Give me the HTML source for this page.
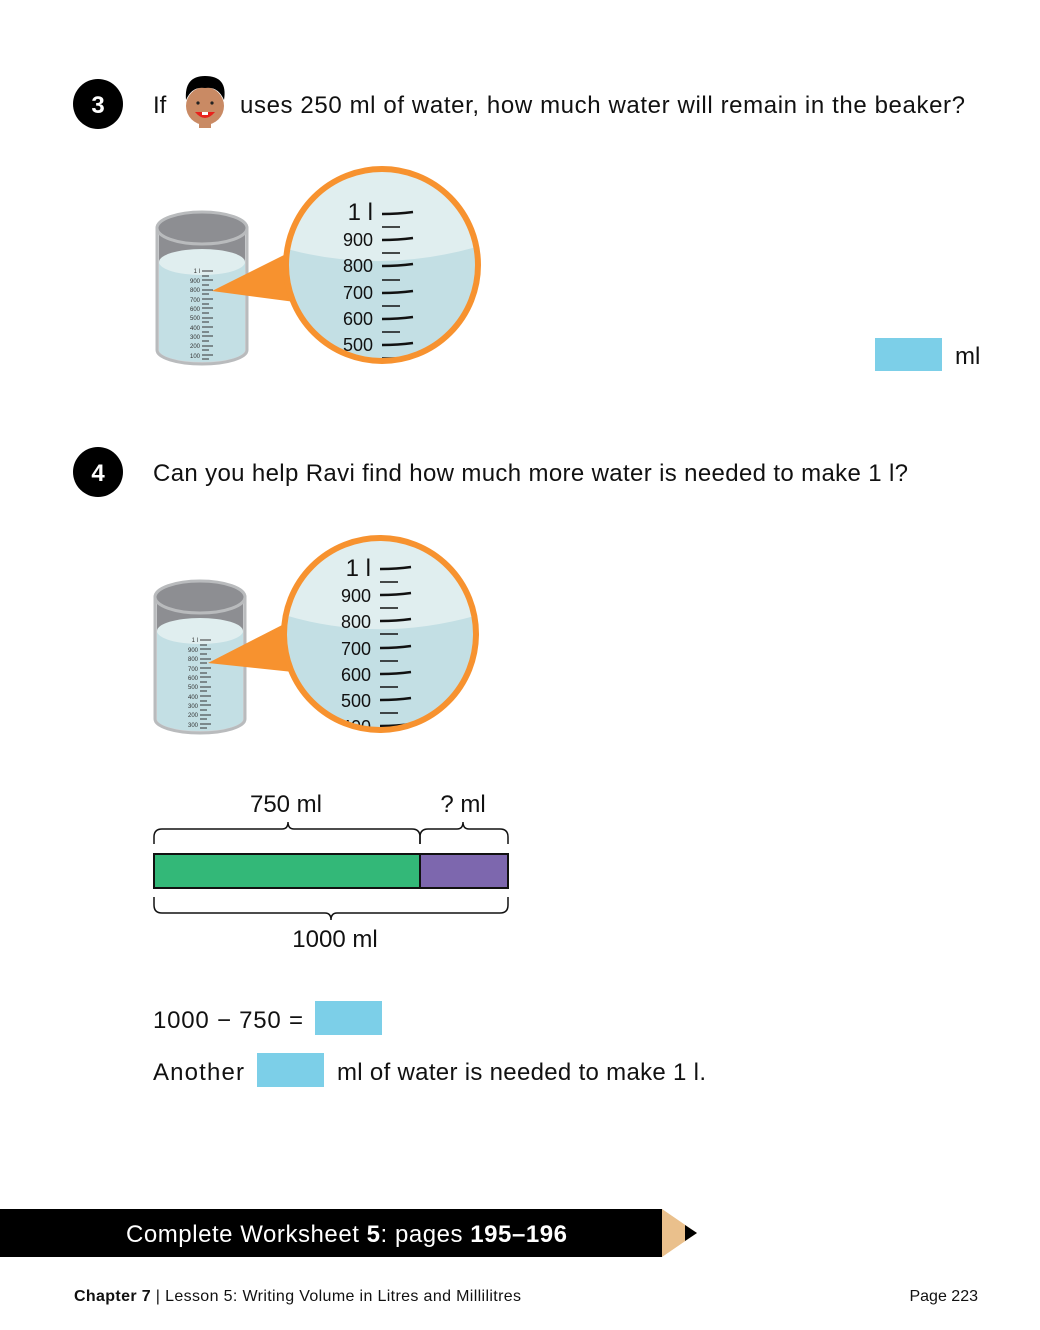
<!DOCTYPE html>
<html><head><meta charset="utf-8"><style>
html,body{margin:0;padding:0;background:#fff}
svg{display:block}
text{font-family:"Liberation Sans",sans-serif}
</style></head><body>
<svg width="1040" height="1330" viewBox="0 0 1040 1330" xmlns="http://www.w3.org/2000/svg">
<defs>
<clipPath id="c1"><circle cx="382" cy="265" r="95"/></clipPath>
<clipPath id="c2"><circle cx="380" cy="634" r="95"/></clipPath>
</defs>

<!-- Q3 -->
<circle cx="98" cy="104" r="25" fill="#000"/>
<text x="98" y="113" font-size="24" font-weight="bold" fill="#fff" text-anchor="middle">3</text>
<text x="153" y="113" font-size="24" fill="#111">If</text>
<g>
<ellipse cx="205" cy="106" rx="19" ry="19" fill="#c98a64"/>
<path d="M186,100 Q184,76 205,76 Q228,76 224,100 Q218,86 205,88 Q192,86 186,100Z" fill="#000"/>
<circle cx="198" cy="103" r="1.6" fill="#222"/><circle cx="212" cy="103" r="1.6" fill="#222"/>
<path d="M195,112 Q205,124 215,112Z" fill="#e8221c"/>
<rect x="202" y="112" width="6" height="3" fill="#fff"/>
<rect x="199" y="124" width="12" height="4" fill="#c98a64"/>
</g>
<text x="240" y="113" font-size="24" fill="#111" textLength="725" lengthAdjust="spacing">uses 250 ml of water, how much water will remain in the beaker?</text>

<!-- beaker 1 -->
<g id="bk">
<path d="M157,228 L157,350 A45,14 0 0 0 247,350 L247,228Z" fill="#d4d6d8" stroke="#b9bbbd" stroke-width="3"/>
<path d="M159,228 L159,262 L245,262 L245,228Z" fill="#8d8e92"/>
<ellipse cx="202" cy="228" rx="45" ry="16" fill="#8d8e92" stroke="#b9bbbd" stroke-width="3"/>
<path d="M159,262 L159,350 A43,12 0 0 0 245,350 L245,262Z" fill="#c3dfe4"/>
<ellipse cx="202" cy="262" rx="43" ry="13" fill="#e0eeef"/>
</g>
<g font-size="6" fill="#333" text-anchor="end">
<text x="200" y="273">1 l</text><text x="200" y="283">900</text><text x="200" y="292">800</text><text x="200" y="302">700</text><text x="200" y="311">600</text><text x="200" y="320">500</text><text x="200" y="330">400</text><text x="200" y="339">300</text><text x="200" y="348">200</text><text x="200" y="358">100</text>
</g>
<path d="M202,271h11M202,276h7M202,280h11M202,285h7M202,290h11M202,294h7M202,299h11M202,304h7M202,308h11M202,313h7M202,318h11M202,322h7M202,327h11M202,332h7M202,336h11M202,341h7M202,346h11M202,350h7M202,355h11M202,359h7" stroke="#333" stroke-width="1"/>
<polygon points="212,291 290,252 295,302" fill="#f7922f"/>
<g clip-path="url(#c1)">
<rect x="280" y="160" width="210" height="210" fill="#e0eeef"/>
<path d="M280,247 Q382,277 490,243 L490,370 L280,370Z" fill="#c3dfe4"/>
<g font-size="18" fill="#111" text-anchor="end">
<text x="373" y="220" font-size="24">1 l</text><text x="373" y="246">900</text><text x="373" y="272">800</text><text x="373" y="299">700</text><text x="373" y="325">600</text><text x="373" y="351">500</text>
</g>
<path d="M382,214 Q398,214 413,212M382,240 Q398,240 413,238M382,266 Q398,266 413,264M382,293 Q398,293 413,291M382,319 Q398,319 413,317M382,345 Q398,345 413,343" stroke="#111" stroke-width="2.5" fill="none"/>
<path d="M382,227h18M382,253h18M382,280h18M382,306h18M382,332h18M382,358h18" stroke="#111" stroke-width="1.5"/>
</g>
<circle cx="382" cy="265" r="96" fill="none" stroke="#f7922f" stroke-width="6"/>

<rect x="875" y="338" width="67" height="33" fill="#7ccfe8"/>
<text x="955" y="364" font-size="24" fill="#111">ml</text>

<!-- Q4 -->
<circle cx="98" cy="472" r="25" fill="#000"/>
<text x="98" y="481" font-size="24" font-weight="bold" fill="#fff" text-anchor="middle">4</text>
<text x="153" y="481" font-size="24" fill="#111" textLength="755" lengthAdjust="spacing">Can you help Ravi find how much more water is needed to make 1 l?</text>

<g transform="translate(-2,369)">
<path d="M157,228 L157,350 A45,14 0 0 0 247,350 L247,228Z" fill="#d4d6d8" stroke="#b9bbbd" stroke-width="3"/>
<path d="M159,228 L159,262 L245,262 L245,228Z" fill="#8d8e92"/>
<ellipse cx="202" cy="228" rx="45" ry="16" fill="#8d8e92" stroke="#b9bbbd" stroke-width="3"/>
<path d="M159,262 L159,350 A43,12 0 0 0 245,350 L245,262Z" fill="#c3dfe4"/>
<ellipse cx="202" cy="262" rx="43" ry="13" fill="#e0eeef"/>
<g font-size="6" fill="#333" text-anchor="end">
<text x="200" y="273">1 l</text><text x="200" y="283">900</text><text x="200" y="292">800</text><text x="200" y="302">700</text><text x="200" y="311">600</text><text x="200" y="320">500</text><text x="200" y="330">400</text><text x="200" y="339">300</text><text x="200" y="348">200</text><text x="200" y="358">300</text>
</g>
<path d="M202,271h11M202,276h7M202,280h11M202,285h7M202,290h11M202,294h7M202,299h11M202,304h7M202,308h11M202,313h7M202,318h11M202,322h7M202,327h11M202,332h7M202,336h11M202,341h7M202,346h11M202,350h7M202,355h11M202,359h7" stroke="#333" stroke-width="1"/>
</g>
<polygon points="208,663 288,622 293,672" fill="#f7922f"/>
<g clip-path="url(#c2)">
<rect x="278" y="530" width="210" height="210" fill="#e0eeef"/>
<path d="M278,613 Q380,646 488,612 L488,740 L278,740Z" fill="#c3dfe4"/>
<g font-size="18" fill="#111" text-anchor="end">
<text x="371" y="576" font-size="24">1 l</text><text x="371" y="602">900</text><text x="371" y="628">800</text><text x="371" y="655">700</text><text x="371" y="681">600</text><text x="371" y="707">500</text><text x="371" y="733">400</text>
</g>
<path d="M380,569 Q396,569 411,567M380,595 Q396,595 411,593M380,621 Q396,621 411,619M380,648 Q396,648 411,646M380,674 Q396,674 411,672M380,700 Q396,700 411,698M380,726 Q396,726 411,724" stroke="#111" stroke-width="2.5" fill="none"/>
<path d="M380,582h18M380,608h18M380,634h18M380,661h18M380,687h18M380,713h18" stroke="#111" stroke-width="1.5"/>
</g>
<circle cx="380" cy="634" r="96" fill="none" stroke="#f7922f" stroke-width="6"/>

<!-- bar model -->
<text x="286" y="812" font-size="24" fill="#111" text-anchor="middle">750 ml</text>
<text x="463" y="812" font-size="24" fill="#111" text-anchor="middle">? ml</text>
<path d="M154,844 V837 Q154,829 162,829 H282 Q288,829 288,822 Q288,829 294,829 H412 Q420,829 420,837 V844" fill="none" stroke="#111" stroke-width="1.5"/>
<path d="M420,844 V837 Q420,829 428,829 H457 Q463,829 463,822 Q463,829 469,829 H500 Q508,829 508,837 V844" fill="none" stroke="#111" stroke-width="1.5"/>
<rect x="154" y="854" width="266" height="34" fill="#33b878" stroke="#111" stroke-width="2"/>
<rect x="420" y="854" width="88" height="34" fill="#7d67ae" stroke="#111" stroke-width="2"/>
<path d="M154,897 V905 Q154,913 162,913 H325 Q331,913 331,920 Q331,913 337,913 H500 Q508,913 508,905 V897" fill="none" stroke="#111" stroke-width="1.5"/>
<text x="335" y="947" font-size="24" fill="#111" text-anchor="middle">1000 ml</text>

<text x="153" y="1028" font-size="24" fill="#111" textLength="150" lengthAdjust="spacing">1000 − 750 =</text>
<rect x="315" y="1001" width="67" height="34" fill="#7ccfe8"/>
<text x="153" y="1080" font-size="24" fill="#111" textLength="91" lengthAdjust="spacing">Another</text>
<rect x="257" y="1053" width="67" height="34" fill="#7ccfe8"/>
<text x="337" y="1080" font-size="24" fill="#111" textLength="369" lengthAdjust="spacing">ml of water is needed to make 1 l.</text>

<!-- footer -->
<rect x="0" y="1209" width="662" height="48" fill="#000"/>
<polygon points="662,1209 697,1233 662,1257" fill="#eac08c"/>
<polygon points="685,1225 697,1233 685,1241" fill="#000"/>
<text x="126" y="1242" font-size="24" fill="#fff" textLength="441" lengthAdjust="spacing">Complete Worksheet <tspan font-weight="bold">5</tspan>: pages <tspan font-weight="bold">195–196</tspan></text>
<text x="74" y="1301" font-size="16" fill="#111" textLength="447" lengthAdjust="spacing"><tspan font-weight="bold">Chapter 7</tspan> | Lesson 5: Writing Volume in Litres and Millilitres</text>
<text x="978" y="1301" font-size="16" fill="#111" text-anchor="end">Page 223</text>
</svg>
</body></html>
